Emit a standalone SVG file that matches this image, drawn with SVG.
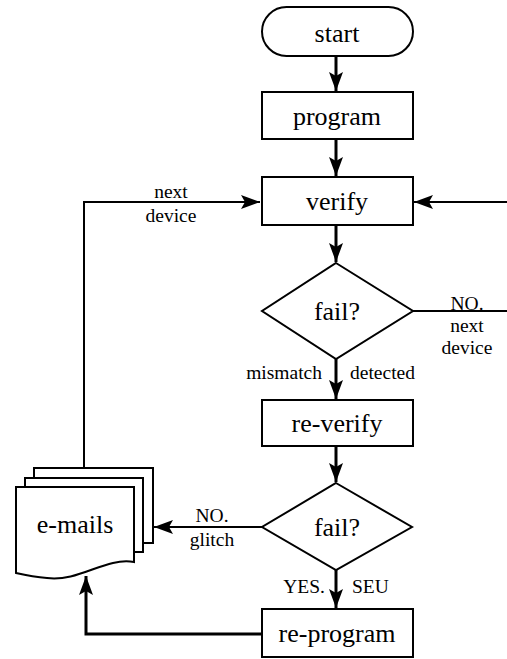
<svg xmlns="http://www.w3.org/2000/svg" width="507" height="659" viewBox="0 0 507 659">
<style>
text{font-family:'Liberation Serif','Times New Roman','DejaVu Serif',serif;fill:#000}
.box{fill:#fff;stroke:#000;stroke-width:2}
.lbl{font-size:26px;text-anchor:middle}
.sm{font-size:19.5px}
.c{fill:none;stroke:#000;stroke-width:3}
.t{fill:none;stroke:#000;stroke-width:2}
</style>
<defs>
<marker id="ah" markerUnits="userSpaceOnUse" markerWidth="20" markerHeight="14" refX="19" refY="7" orient="auto">
<path d="M0,0 L19,7 L0,14 L4,7 Z" fill="#000"/>
</marker>
</defs>
<rect width="507" height="659" fill="#fff"/>
<g id="connectors">
<line class="c" x1="336" y1="56" x2="336" y2="91" marker-end="url(#ah)"/>
<line class="c" x1="336" y1="139" x2="336" y2="176" marker-end="url(#ah)"/>
<line class="c" x1="336" y1="225" x2="336" y2="262" marker-end="url(#ah)"/>
<line class="c" x1="336" y1="359" x2="336" y2="399" marker-end="url(#ah)"/>
<line class="c" x1="336" y1="446" x2="336" y2="482" marker-end="url(#ah)"/>
<line class="c" x1="336" y1="570" x2="336" y2="608" marker-end="url(#ah)"/>
<polyline class="c" points="262,634 86,634 86,576" marker-end="url(#ah)"/>
<line class="t" x1="262" y1="527" x2="154" y2="527" marker-end="url(#ah)"/>
<line class="t" x1="413" y1="311" x2="507" y2="311"/>
<line class="t" x1="507" y1="202" x2="414" y2="202" marker-end="url(#ah)"/>
<polyline class="t" points="84,468 84,202 260,202" marker-end="url(#ah)"/>
<g font-family="Liberation Serif, serif">
<text class="sm" x="171" y="198" text-anchor="middle">next</text>
<text class="sm" x="171" y="222" text-anchor="middle">device</text>
<text class="sm" x="467" y="310" text-anchor="middle">NO.</text>
<text class="sm" x="467" y="332" text-anchor="middle">next</text>
<text class="sm" x="467" y="354" text-anchor="middle">device</text>
<text class="sm" x="322" y="379" text-anchor="end">mismatch</text>
<text class="sm" x="350" y="379">detected</text>
<text class="sm" x="212" y="522" text-anchor="middle">NO.</text>
<text class="sm" x="212" y="546" text-anchor="middle">glitch</text>
<text class="sm" x="325" y="593" text-anchor="end">YES.</text>
<text class="sm" x="352" y="593">SEU</text>
</g>
</g>
<g id="start">
<rect class="box" x="262" y="7" width="151" height="49" rx="24.5" ry="24.5"/>
<text class="lbl" x="337" y="42">start</text>
</g>
<g id="program">
<rect class="box" x="262" y="92" width="151" height="47"/>
<text class="lbl" x="337" y="125">program</text>
</g>
<g id="verify">
<rect class="box" x="262" y="177" width="151" height="48"/>
<text class="lbl" x="337" y="210">verify</text>
</g>
<g id="fail1">
<polygon class="box" points="336,263 413,311 336,359 262,311"/>
<text class="lbl" x="337" y="320">fail?</text>
</g>
<g id="reverify">
<rect class="box" x="262" y="400" width="151" height="46"/>
<text class="lbl" x="337" y="432">re-verify</text>
</g>
<g id="fail2">
<polygon class="box" points="336,483 412,527 336,570 262,527"/>
<text class="lbl" x="337" y="536">fail?</text>
</g>
<g id="reprogram">
<rect class="box" x="262" y="609" width="151" height="48"/>
<text class="lbl" x="337" y="642">re-program</text>
</g>
<g id="emails">
<path class="box" d="M34,543 V468 H153 V543 Z"/>
<path class="box" d="M25,552 V478 H143 V552 Z"/>
<path class="box" d="M16,573 V487 H134 V562 C105,557 80,582 47,578 C35,577 25,575 16,573 Z"/>
<text class="lbl" x="75" y="533">e-mails</text>
</g>
</svg>
